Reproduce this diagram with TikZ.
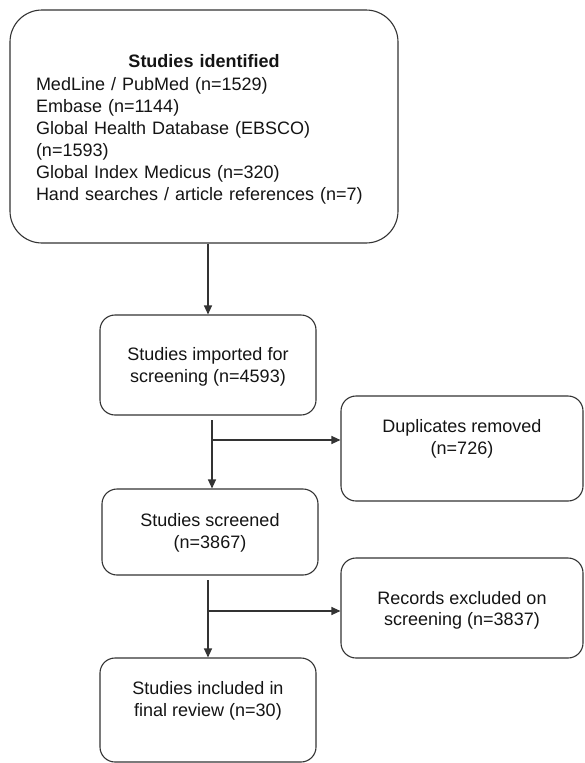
\documentclass[tikz,border=0pt]{standalone}
\usepackage{fontspec}
\setmainfont{Liberation Sans}
\usetikzlibrary{arrows.meta}
\definecolor{ln}{HTML}{333333}
\definecolor{tx}{HTML}{141414}
\begin{document}
\begin{tikzpicture}[x=1pt,y=-1pt,
  bigbox/.style={draw=ln,line width=1.1pt,rounded corners=32pt,inner sep=0pt},
  smallbox/.style={draw=ln,line width=1.1pt,rounded corners=15pt,inner sep=0pt},
  txt/.style={text=tx,font=\fontsize{18}{21.5}\selectfont,align=center,inner sep=0pt},
  arr/.style={draw=ln,line width=1.1pt,-{Triangle[length=9pt,width=8pt]}},
  ln/.style={draw=ln,line width=1.1pt}]
\useasboundingbox (0,0) rectangle (584,763);
% boxes
\node[bigbox,minimum width=388pt,minimum height=233pt] (top) at (204,126.5) {};
\node[smallbox,minimum width=216pt,minimum height=100pt] (imp) at (208,365) {};
\node[smallbox,minimum width=242pt,minimum height=105pt] (dup) at (462,448.5) {};
\node[smallbox,minimum width=216pt,minimum height=86pt] (scr) at (210,532) {};
\node[smallbox,minimum width=242pt,minimum height=100pt] (rec) at (462,608) {};
\node[smallbox,minimum width=216pt,minimum height=104pt] (inc) at (208,710) {};
% texts
\node[txt,font=\fontsize{18}{22}\selectfont,align=left,text width=336pt] (toptxt) at (204,129.5) {\makebox[\linewidth]{\bfseries Studies identified}\\[0.5pt]
MedLine / PubMed (n=1529)\\
Embase (n=1144)\\
Global Health Database (EBSCO)\\
(n=1593)\\
Global Index Medicus (n=320)\\
Hand searches / article references (n=7)};
\node[txt] (imptxt) at (208,367) {Studies imported for\\screening (n=4593)};
\node[txt] (duptxt) at (462,439) {Duplicates removed\\(n=726)};
\node[txt] (scrtxt) at (210,533) {Studies screened\\(n=3867)};
\node[txt] (rectxt) at (462,610.5) {Records excluded on\\screening (n=3837)};
\node[txt] (inctxt) at (208,701) {Studies included in\\final review (n=30)};
% connectors
\draw[arr] (imp.north |- top.south) -- (imp.north);
\coordinate (c1) at (212,420);
\coordinate (b1) at (212,440);
\draw[arr] (c1) -- (c1 |- scr.north);
\draw[arr] (b1) -- (b1 -| dup.west);
\coordinate (c2) at (208,580);
\coordinate (b2) at (208,611);
\draw[arr] (c2) -- (c2 |- inc.north);
\draw[arr] (b2) -- (b2 -| rec.west);
\end{tikzpicture}
\end{document}
